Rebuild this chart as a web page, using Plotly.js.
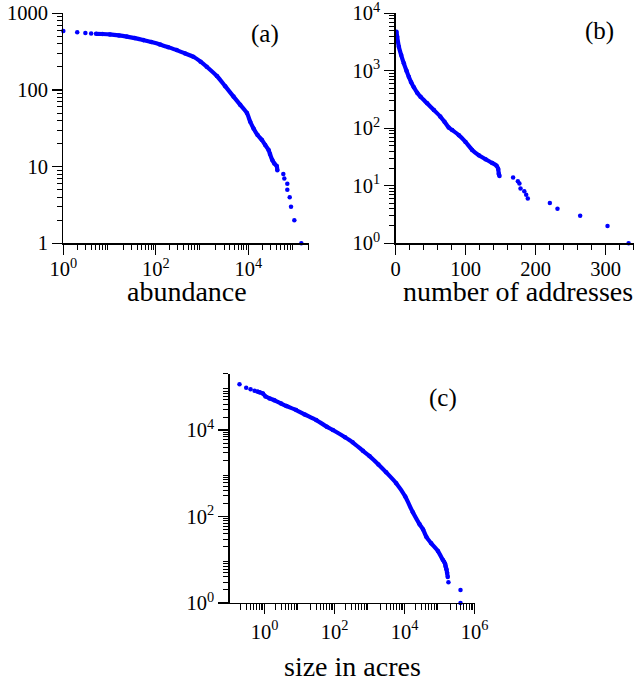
<!DOCTYPE html>
<html><head><meta charset="utf-8">
<script src="https://cdn.plot.ly/plotly-3.0.1.min.js"></script>
<style>html,body{margin:0;padding:0;background:#fff;}</style>
</head><body><div id="chart" style="width:643px;height:686px;"></div>
<script>
// ---------- (a) bird sightings: abundance vs cumulative number of species ----------
const birdHeadX = [1, 2, 3, 4];
const birdHeadY = [588, 565, 553, 547];
const birdDenseX = [5.1, 7, 10.2, 16, 23.5, 35, 53.8, 80, 123, 185, 283, 430, 648, 930, 1260, 2089, 3162, 4786, 6683, 9333, 11000, 12980, 15850, 19700, 23200, 27400, 29400, 33000, 36500, 41100, 42400];
const birdDenseY = [540, 537, 531, 515, 497, 475, 447, 422, 393, 362, 331, 300, 271, 234, 201, 152, 112, 82, 64, 50, 38.5, 31.5, 25.8, 22.2, 19.1, 16.5, 14.6, 12.2, 11, 10.2, 9];
const birdTailX = [57100, 60000, 69700, 69700, 78500, 83800, 98800, 140000];
const birdTailY = [8, 7, 6, 5, 4, 3, 2, 1];

// ---------- (b) e-mail address books ----------
const mailDenseX = [1.4, 2.4, 4.8, 8.1, 11.9, 15.7, 19, 22.4, 26.2, 31, 35.7, 45.2, 54.8, 64, 70, 76, 81, 90.5, 100, 109.5, 119, 128.6, 138, 144.3, 146.7, 147.6, 148.6];
const mailDenseY = [4790, 3920, 2620, 1880, 1350, 1006, 789, 631, 517, 416, 355, 272, 208, 160, 130, 103, 93, 76, 58, 42, 34, 29, 25, 22.4, 19.6, 16, 14.8];
const mailTailX = [168, 174.8, 177, 178.6, 184, 186.7, 189, 220.5, 231.4, 263.8, 302.9, 333];
const mailTailY = [14, 12, 11, 9, 8, 7, 6, 5, 4, 3, 2, 1];

// ---------- (c) wildfire size in acres ----------
const fireHeadX = [0.193, 0.3, 0.4, 0.52];
const fireHeadY = [114000, 95000, 87600, 81600];
const fireDenseX = [0.62, 0.72, 0.9, 1.07, 1.4, 1.9, 3, 4.2, 8, 14, 30, 60, 90, 200, 330, 650, 1000, 1800, 3000, 5800, 10500, 17300, 27000, 34000, 42000, 58000, 90000, 124000, 135000, 145000, 150000, 158000, 165000, 172000];
const fireDenseY = [78000, 75000, 70000, 60000, 54000, 49000, 41000, 36000, 29000, 23000, 17000, 12000, 10000, 6800, 5200, 3300, 2500, 1600, 1050, 590, 290, 125, 66, 50, 34, 24, 16, 10, 9, 8, 7, 6, 5, 4];
const fireTailX = [180000, 398000, 398000];
const fireTailY = [3, 2, 1];

// ---------- axis titles, panel labels ----------
const axisTitles = ['abundance', 'number of addresses', 'size in acres'];
const panelLabels = ['(a)', '(b)', '(c)'];

// ---------- tick labels (labelled decades) and unlabelled decade ticks ----------
const aXTickVals = [1, 100, 1e4];
const aXTickText = ['10<sup>0</sup>', '10<sup>2</sup>', '10<sup>4</sup>'];
const aXPlainDecades = [10, 1e3, 1e5];
const aYTickVals = [1, 10, 100, 1000];
const aYTickText = ['1', '10', '100', '1000'];
const bXTickVals = [0, 100, 200, 300];
const bXTickText = ['0', '100', '200', '300'];
const bYTickVals = [1, 10, 100, 1e3, 1e4];
const bYTickText = ['10<sup>0</sup>', '10<sup>1</sup>', '10<sup>2</sup>', '10<sup>3</sup>', '10<sup>4</sup>'];
const cXTickVals = [1, 100, 1e4, 1e6];
const cXTickText = ['10<sup>0</sup>', '10<sup>2</sup>', '10<sup>4</sup>', '10<sup>6</sup>'];
const cXPlainDecades = [0.1, 10, 1e3, 1e5];
const cYTickVals = [1, 100, 1e4];
const cYTickText = ['10<sup>0</sup>', '10<sup>2</sup>', '10<sup>4</sup>'];
const cYPlainDecades = [10, 1e3, 1e5];

function minorLog(loExp, hiExp, maxVal) {
  const v = [];
  for (let e = loExp; e <= hiExp; e++) {
    for (let m = 2; m <= 9; m++) {
      const val = m * Math.pow(10, e);
      if (val <= maxVal * 1.0001) v.push(val);
    }
  }
  return v;
}

const BLUE = 'rgb(0,0,255)';
const FONT = "'Liberation Serif', 'Times New Roman', Times, serif";

function dense(x, y, xa, ya) {
  return {x: x, y: y, xaxis: xa, yaxis: ya, type: 'scatter', mode: 'lines+markers',
    line: {color: BLUE, width: 4.2, shape: 'spline', smoothing: 0.6},
    marker: {color: BLUE, size: 4.5}, cliponaxis: false, hoverinfo: 'x+y'};
}
function dots(x, y, xa, ya) {
  return {x: x, y: y, xaxis: xa, yaxis: ya, type: 'scatter', mode: 'markers',
    marker: {color: BLUE, size: 4.5}, cliponaxis: false, hoverinfo: 'x+y'};
}

const data = [
  dots(birdHeadX, birdHeadY, 'x', 'y'),
  dense(birdDenseX, birdDenseY, 'x', 'y'),
  dots(birdTailX, birdTailY, 'x', 'y'),
  dense(mailDenseX, mailDenseY, 'x2', 'y2'),
  dots(mailTailX, mailTailY, 'x2', 'y2'),
  dots(fireHeadX, fireHeadY, 'x3', 'y3'),
  dense(fireDenseX, fireDenseY, 'x3', 'y3'),
  dots(fireTailX, fireTailY, 'x3', 'y3')
];

const tickFont = {family: FONT, size: 20.5, color: '#000'};
function axisBase(extra) {
  return Object.assign({
    showline: true, linecolor: '#000', linewidth: 1.3,
    showgrid: false, zeroline: false, ticks: 'outside', ticklen: 10, tickwidth: 1.3,
    tickcolor: '#000', tickfont: tickFont, mirror: false, fixedrange: true,
    ticklabeloverflow: 'allow'
  }, extra);
}
function logMinor(vals) {
  return {tickmode: 'array', tickvals: vals, ticks: 'outside', ticklen: 5.5, tickwidth: 1, tickcolor: '#000', showgrid: false};
}
function plainTicks(extra) {
  return Object.assign({
    showline: false, showgrid: false, zeroline: false, showticklabels: false,
    ticks: 'outside', ticklen: 10, tickwidth: 1.3, tickcolor: '#000', fixedrange: true,
    tickmode: 'array'
  }, extra);
}

const aXDomain = [63.3/643, 308.5/643];
const abYDomain = [1 - 243.3/686, 1 - 13.3/686];
const bXDomain = [395.5/643, 633.5/643];
const cXDomain = [229.5/643, 474.5/643];
const cYDomain = [1 - 603/686, 1 - 373.8/686];

function label(text, xpx, ypx, size) {
  return {text: text, xref: 'paper', yref: 'paper', x: xpx/643, y: 1 - ypx/686, showarrow: false,
    font: {family: FONT, size: size, color: '#000'}, xanchor: 'center', yanchor: 'middle'};
}

const layout = {
  width: 643, height: 686, margin: {l: 0, r: 0, t: 0, b: 0},
  paper_bgcolor: '#fff', plot_bgcolor: 'rgba(0,0,0,0)', showlegend: false,
  font: {family: FONT, color: '#000'},
  xaxis: axisBase({type: 'log', domain: aXDomain, range: [0, Math.log10(2e5)], anchor: 'y', ticklabelstandoff: -3,
    tickmode: 'array', tickvals: aXTickVals, ticktext: aXTickText, minor: logMinor(minorLog(0, 5, 2e5))}),
  yaxis: axisBase({type: 'log', domain: abYDomain, range: [0, 3], anchor: 'x',
    tickmode: 'array', tickvals: aYTickVals, ticktext: aYTickText, minor: logMinor(minorLog(0, 2, 1000))}),
  xaxis2: axisBase({type: 'linear', domain: bXDomain, range: [0, 340], anchor: 'y2', ticklabelstandoff: -3,
    tickmode: 'array', tickvals: bXTickVals, ticktext: bXTickText,
    minor: {tickmode: 'linear', tick0: 0, dtick: 20, ticks: 'outside', ticklen: 5.5, tickwidth: 1, tickcolor: '#000', showgrid: false}}),
  yaxis2: axisBase({type: 'log', domain: abYDomain, range: [0, 4], anchor: 'x2',
    tickmode: 'array', tickvals: bYTickVals, ticktext: bYTickText, minor: logMinor(minorLog(0, 3, 1e4))}),
  xaxis3: axisBase({type: 'log', domain: cXDomain, range: [-1, 6], anchor: 'y3',
    tickmode: 'array', tickvals: cXTickVals, ticktext: cXTickText, minor: logMinor(minorLog(-1, 5, 1e6))}),
  yaxis3: axisBase({type: 'log', domain: cYDomain, range: [0, Math.log10(2e5)], anchor: 'x3',
    tickmode: 'array', tickvals: cYTickVals, ticktext: cYTickText, minor: logMinor(minorLog(0, 5, 2e5))}),
  // unlabelled long ticks at the remaining decades
  xaxis4: plainTicks({type: 'log', overlaying: 'x', anchor: 'y', side: 'bottom', range: [0, Math.log10(2e5)], tickvals: aXPlainDecades}),
  xaxis5: plainTicks({type: 'log', overlaying: 'x3', anchor: 'y3', side: 'bottom', range: [-1, 6], tickvals: cXPlainDecades}),
  yaxis4: plainTicks({type: 'log', overlaying: 'y3', anchor: 'x3', side: 'left', range: [0, Math.log10(2e5)], tickvals: cYPlainDecades}),
  annotations: [
    label(axisTitles[0], 187, 292, 28),
    label(axisTitles[1], 518, 292, 28),
    label(axisTitles[2], 352, 666, 28),
    label(panelLabels[0], 265, 34, 25),
    label(panelLabels[1], 599, 31, 25),
    label(panelLabels[2], 443, 398, 25)
  ]
};

Plotly.newPlot('chart', data, layout, {staticPlot: true, displayModeBar: false});
</script>
</body></html>
